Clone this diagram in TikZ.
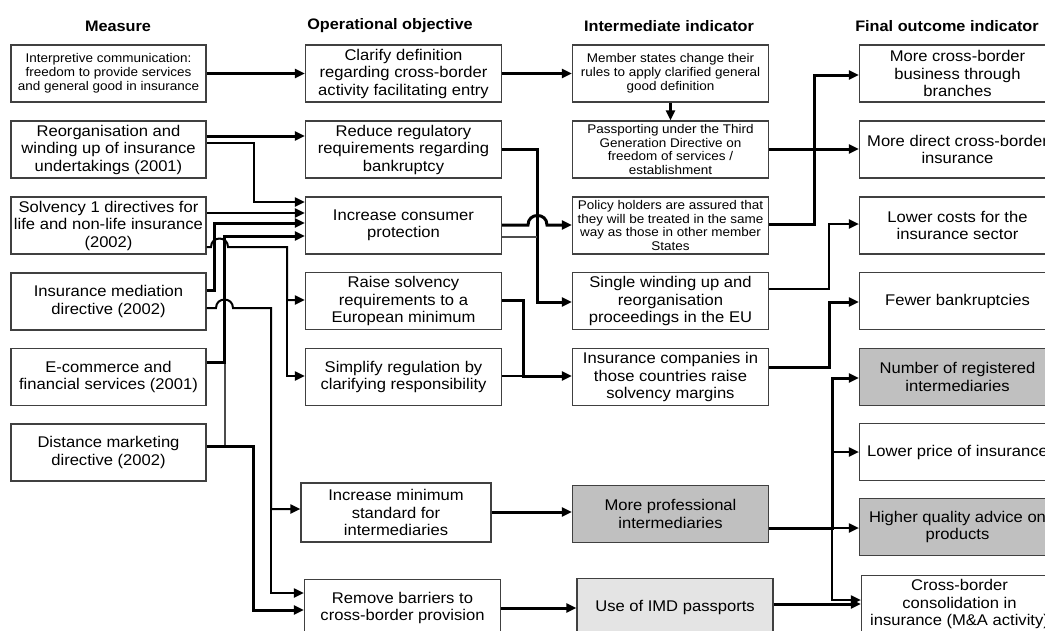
\documentclass[tikz,border=0pt]{standalone}
\usepackage{fontspec}
\setmainfont{Liberation Sans}[FakeStretch=1.07]
\usetikzlibrary{arrows.meta}
\newcommand\mainsz{\fontsize{15.5}{17.5}\selectfont}
\newcommand\smallsz{\fontsize{12.6}{13.8}\selectfont}
\newcommand\headsz{\fontsize{15.2}{17}\selectfont\bfseries}
\definecolor{boxgray}{RGB}{192,192,192}
\definecolor{hatchgray}{RGB}{228,228,228}
\begin{document}
\begin{tikzpicture}[x=1pt,y=-1pt,
  box/.style={draw=black!75, line width=1.2pt, fill=white, minimum height=57pt,
    minimum width=196pt, inner sep=1pt, align=center, font=\mainsz},
  sbox/.style={box, font=\smallsz},
  gbox/.style={box, fill=boxgray},
  hbox/.style={box, fill=hatchgray},
  head/.style={font=\headsz, inner sep=0pt},
  thk/.style={line width=3pt},
  mid/.style={line width=2pt},
  thn/.style={line width=1.1pt, draw=black!70},
  tip/.style={-{Triangle[length=10pt,width=9pt]}}]

\useasboundingbox (0,0) rectangle (1045,630);
\fill[white] (0,0) rectangle (1045,630);
\clip (0,0) rectangle (1045,630);

% column headings
\node[head] (h1) at (118,26) {Measure};
\node[head] (h2) at (390,26) {Operational objective};
\node[head] (h3) at (669,26) {Intermediate indicator};
\node[head] (h4) at (947,26) {Final outcome indicator};

% measures
\node[sbox, minimum width=195pt] (M1) at (108.5,73.5) {Interpretive communication:\\freedom to provide services\\and general good in insurance};
\node[box, minimum width=195pt] (M2) at (108.5,149.5) {Reorganisation and\\winding up of insurance\\undertakings (2001)};
\node[box, minimum width=195pt] (M3) at (108.5,225.5) {Solvency 1 directives for\\life and non-life insurance\\(2002)};
\node[box, minimum width=195pt] (M4) at (108.5,301.5) {Insurance mediation\\directive (2002)};
\node[box, minimum width=195pt] (M5) at (108.5,377) {E-commerce and\\financial services (2001)};
\node[box, minimum width=195pt] (M6) at (108.5,452.5) {Distance marketing\\directive (2002)};

% operational objectives
\node[box] (A) at (403.5,73.5) {Clarify definition\\regarding cross-border\\activity facilitating entry};
\node[box] (B) at (403.5,149.5) {Reduce regulatory\\requirements regarding\\bankruptcy};
\node[box] (C) at (403.5,225.5) {Increase consumer\\protection};
\node[box] (D) at (403.5,301) {Raise solvency\\requirements to a\\European minimum};
\node[box] (E) at (403.5,377) {Simplify regulation by\\clarifying responsibility};
\node[box, minimum width=190pt, minimum height=59pt] (F) at (396,512.5) {Increase minimum\\standard for\\intermediaries};
\node[box] (G) at (402.5,608) {Remove barriers to\\cross-border provision};

% intermediate indicators
\node[sbox] (I1) at (670.5,73.5) {Member states change their\\rules to apply clarified general\\good definition};
\node[sbox] (I2) at (670.5,149.5) {Passporting under the Third\\Generation Directive on\\freedom of services /\\establishment};
\node[sbox] (I3) at (670.5,225.5) {Policy holders are assured that\\they will be treated in the same\\way as those in other member\\States};
\node[box] (I4) at (670.5,301) {Single winding up and\\reorganisation\\proceedings in the EU};
\node[box] (I5) at (670.5,377) {Insurance companies in\\those countries raise\\solvency margins};
\node[gbox] (I6) at (670.5,514) {More professional\\intermediaries};
\node[hbox] (I7) at (675,607) {Use of IMD passports};

% final outcome indicators
\node[box] (F1) at (957.5,73.5) {More cross-border\\business through\\branches};
\node[box] (F2) at (957.5,149.5) {More direct cross-border\\insurance};
\node[box] (F3) at (957.5,225.5) {Lower costs for the\\insurance sector};
\node[box] (F4) at (957.5,301) {Fewer bankruptcies};
\node[gbox] (F5) at (957.5,377) {Number of registered\\intermediaries};
\node[box] (F6) at (957.5,452) {Lower price of insurance};
\node[gbox] (F7) at (957.5,527) {Higher quality advice on\\products};
\node[box] (F8) at (959.5,604) {Cross-border\\consolidation in\\insurance (M\&A activity)};

% measures -> operational objectives
\draw[thk,tip] (M1.east) -- (A.west);
\draw[thk,tip] (M2.east |- 0,136) -- (B.west |- 0,136);
\draw[mid,tip] (M2.east |- 0,143) -- (254,143) -- (254,202) -- (C.west |- 0,202);
\draw[mid,tip] (M3.east |- 0,213) -- (C.west |- 0,213);
\draw[thk,tip] (M4.east |- 0,290) -- (214,290) -- (214,223) -- (C.west |- 0,223);
\draw[thn] (M6.east |- 0,446) -- (225,446) -- (225,362);
\draw[thk,tip] (M5.east |- 0,362) -- (224,362) -- (224,236) -- (C.west |- 0,236);
\draw[mid,tip] (M3.east |- 0,247) -- (211,247) .. controls (211,235.7) and (228,235.7) .. (228,247)
  -- (287,247) -- (287,300) -- (D.west |- 0,300);
\draw[mid,tip] (287,300) -- (287,376) -- (E.west |- 0,376);
\draw[mid,tip] (M4.east |- 0,308) -- (216,308) .. controls (216,296.7) and (233,296.7) .. (233,308)
  -- (271,308) -- (271,509) -- (F.west |- 0,509);
\draw[mid,tip] (271,509) -- (271,593) -- (G.west |- 0,593);
\draw[thk,tip] (M6.east |- 0,446) -- (253,446) -- (253,610) -- (G.west |- 0,610);

% operational objectives -> intermediate indicators
\draw[thk,tip] (A.east) -- (I1.west);
\draw[thk,tip] (B.east |- 0,149) -- (537,149) -- (537,302) -- (I4.west |- 0,302);
\draw[thn] (C.east |- 0,237) -- (537,237);
\draw[thk,tip] (C.east |- 0,225) -- (528,225) .. controls (528,212.3) and (547,212.3) .. (547,225)
  -- (I3.west |- 0,225);
\draw[thk,tip] (D.east |- 0,300) -- (523,300) -- (523,376) -- (I5.west |- 0,376);
\draw[mid] (E.east |- 0,376) -- (523,376);
\draw[thk,tip] (F.east |- 0,512) -- (I6.west |- 0,512);
\draw[thk,tip] (G.east |- 0,608) -- (I7.west |- 0,608);

% intermediate indicators -> final outcome indicators
\draw[thk,tip] (I1.south) -- (I2.north);
\draw[thk,tip] (I2.east |- 0,149) -- (F2.west |- 0,149);
\draw[thk,tip] (I3.east |- 0,224) -- (814,224) -- (814,75) -- (F1.west |- 0,75);
\draw[mid,tip] (I4.east |- 0,289) -- (829,289) -- (829,224) -- (F3.west |- 0,224);
\draw[thk,tip] (I5.east |- 0,367) -- (829,367) -- (829,302) -- (F4.west |- 0,302);
\draw[thk,tip] (I6.east |- 0,528) -- (832,528) -- (832,378) -- (F5.west |- 0,378);
\draw[mid,tip] (832,528) -- (F7.west |- 0,528);
\draw[mid,tip] (832,452) -- (F6.west |- 0,452);
\draw[mid,tip] (832,528) -- (832,600) -- (F8.west |- 0,600);
\draw[thk,tip] (I7.east |- 0,604) -- (F8.west |- 0,604);
\end{tikzpicture}
\end{document}
